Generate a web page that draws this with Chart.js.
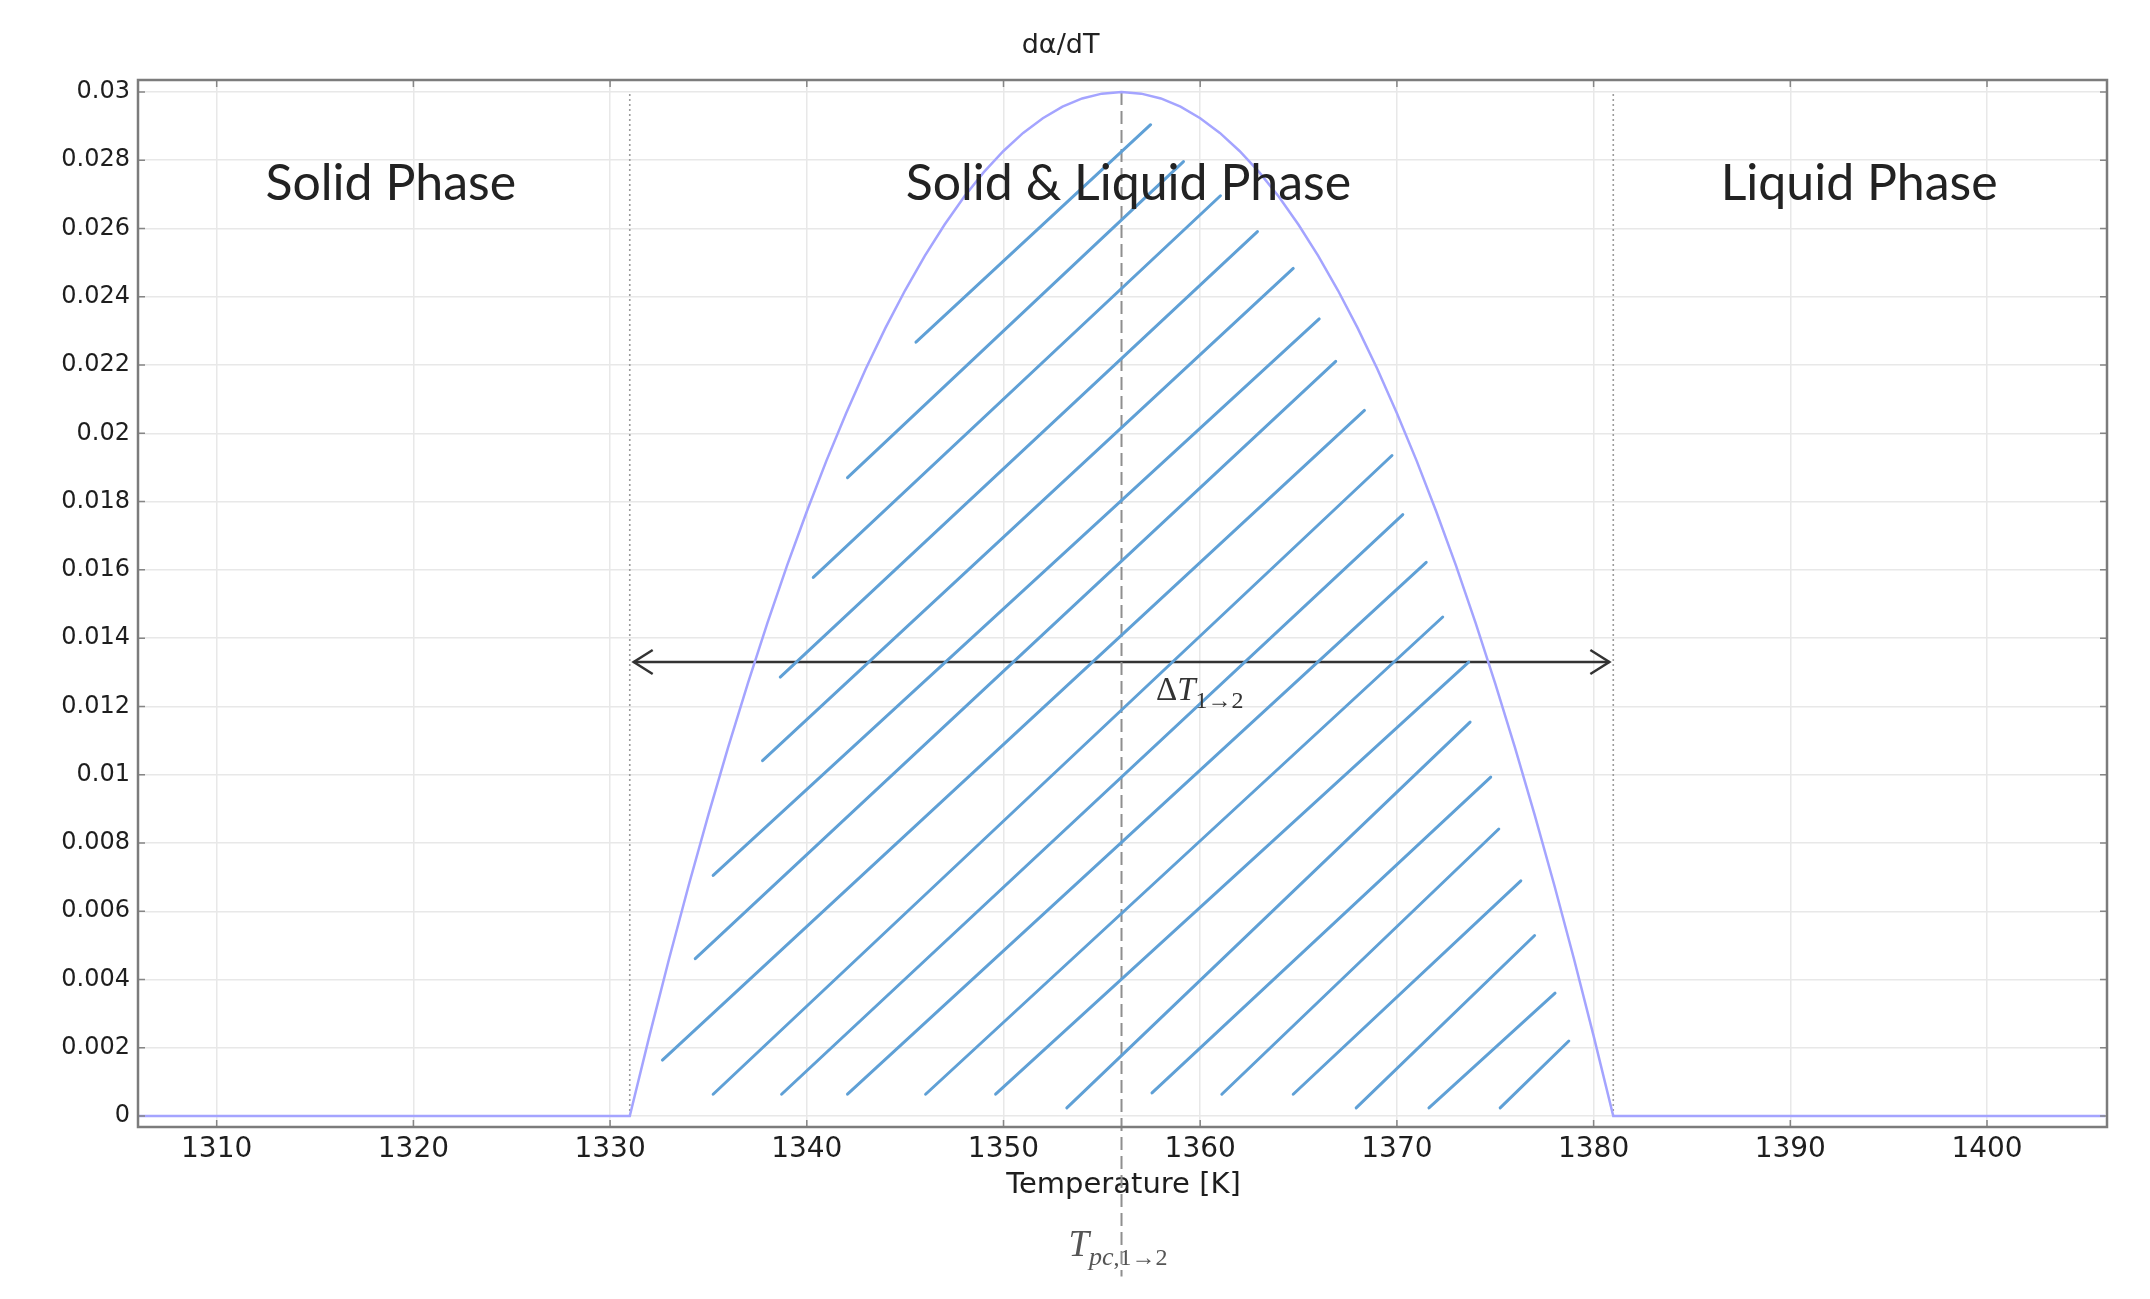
<!DOCTYPE html>
<html>
<head>
<meta charset="utf-8">
<title>dα/dT</title>
<script src="https://cdn.jsdelivr.net/npm/chart.js@4.4.1/dist/chart.umd.min.js"></script>
<style>
html, body { margin: 0; padding: 0; background: #fff; }
#wrap { width: 2150px; height: 1299px; }
</style>
</head>
<body>
<div id="wrap"><canvas id="chart" width="2150" height="1299"></canvas></div>
<script>
// temperature [K] and dα/dT
const temps = [1306, 1331, 1332, 1333, 1334, 1335, 1336, 1337, 1338, 1339, 1340,
    1341, 1342, 1343, 1344, 1345, 1346, 1347, 1348, 1349, 1350,
    1351, 1352, 1353, 1354, 1355, 1356, 1357, 1358, 1359, 1360,
    1361, 1362, 1363, 1364, 1365, 1366, 1367, 1368, 1369, 1370,
    1371, 1372, 1373, 1374, 1375, 1376, 1377, 1378, 1379, 1380, 1381, 1406];
const dAlpha = [0, 0, 0.00235, 0.00461, 0.00677, 0.00883, 0.0108, 0.01267, 0.01445, 0.01613, 0.01771,
    0.0192, 0.02059, 0.02189, 0.02309, 0.02419, 0.0252, 0.02611, 0.02693, 0.02765, 0.02827,
    0.0288, 0.02923, 0.02957, 0.02981, 0.02995, 0.03, 0.02995, 0.02981, 0.02957, 0.02923,
    0.0288, 0.02827, 0.02765, 0.02693, 0.02611, 0.0252, 0.02419, 0.02309, 0.02189, 0.02059,
    0.0192, 0.01771, 0.01613, 0.01445, 0.01267, 0.0108, 0.00883, 0.00677, 0.00461, 0.00235, 0, 0];

const xTicks = [1310, 1320, 1330, 1340, 1350, 1360, 1370, 1380, 1390, 1400];
const yTicks = [0, 0.002, 0.004, 0.006, 0.008, 0.01, 0.012, 0.014, 0.016, 0.018, 0.02,
    0.022, 0.024, 0.026, 0.028, 0.03];
const yTickLabels = ["0", "0.002", "0.004", "0.006", "0.008", "0.01", "0.012", "0.014", "0.016",
    "0.018", "0.02", "0.022", "0.024", "0.026", "0.028", "0.03"];

// hatch strokes under the curve: lower end and upper end [T, dα/dT]
const hatchFrom = [[1345.55, 0.02267], [1342.07, 0.01870], [1340.33, 0.01578], [1338.65, 0.01286],
    [1337.75, 0.01041], [1335.24, 0.00705], [1334.33, 0.00461], [1332.66, 0.00164],
    [1335.24, 0.00064], [1338.72, 0.00064], [1342.07, 0.00064], [1346.04, 0.00064],
    [1349.60, 0.00064], [1353.22, 0.00024], [1357.55, 0.00068], [1361.10, 0.00064],
    [1364.73, 0.00064], [1367.93, 0.00024], [1371.63, 0.00024], [1375.25, 0.00024]];
const hatchTo = [[1357.48, 0.02904], [1359.15, 0.02796], [1361.03, 0.02696], [1362.91, 0.02591],
    [1364.73, 0.02483], [1366.05, 0.02335], [1366.89, 0.02211], [1368.35, 0.02067],
    [1369.75, 0.01935], [1370.30, 0.01762], [1371.49, 0.01622], [1372.33, 0.01462],
    [1373.65, 0.01330], [1373.72, 0.01154], [1374.77, 0.00993], [1375.18, 0.00841],
    [1376.30, 0.00689], [1377.00, 0.00529], [1378.04, 0.00360], [1378.74, 0.00220]];

const phaseBounds = [1331, 1381];   // start / end of melting
const tPeak = 1356;                 // T_pc,1->2
const spanY = 0.0133;               // height of the ΔT arrow
const spanX = [1331.2, 1380.8];

const phaseLabels = [
    { text: "Solid Phase", x: 1318.85 },
    { text: "Solid & Liquid Phase", x: 1356.35 },
    { text: "Liquid Phase", x: 1393.5 }
];

const hatchColor = "rgb(95,160,214)";

let datasets = [];
hatchFrom.forEach((p, i) => {
    datasets.push({
        data: [{ x: p[0], y: p[1] }, { x: hatchTo[i][0], y: hatchTo[i][1] }],
        borderColor: hatchColor, borderWidth: 3, borderCapStyle: "round"
    });
});
phaseBounds.forEach(t => {
    datasets.push({
        data: [{ x: t, y: 0 }, { x: t, y: 0.03 }],
        borderColor: "#9c9c9c", borderWidth: 1.6, borderDash: [2, 3]
    });
});
// dashed line at the peak, runs down past the axis to the T_pc label
datasets.push({
    data: [{ x: tPeak, y: 0.03 }, { x: tPeak, y: -0.0047 }],
    borderColor: "#8f8f8f", borderWidth: 2, borderDash: [13, 6], clip: false
});
datasets.push({
    data: [{ x: spanX[0], y: spanY }, { x: spanX[1], y: spanY }],
    borderColor: "#333", borderWidth: 2.5
});
datasets.unshift({
    data: temps.map((t, i) => ({ x: t, y: dAlpha[i] })),
    borderColor: "#a4a4ff", borderWidth: 2.5
});
datasets.forEach(d => { d.showLine = true; d.pointRadius = 0; d.fill = false; d.tension = 0; });

// pieces of text that mix upright, italic and subscript parts
function drawParts(ctx, x, y, parts, color) {
    ctx.save();
    ctx.fillStyle = color;
    ctx.textAlign = "left";
    ctx.textBaseline = "alphabetic";
    parts.forEach(p => {
        ctx.font = p.font;
        ctx.fillText(p.t, x, y + (p.dy || 0));
        x += ctx.measureText(p.t).width;
    });
    ctx.restore();
}

const decorations = {
    id: "decorations",
    beforeDatasetsDraw(chart) {
        const ctx = chart.ctx, xs = chart.scales.x, ys = chart.scales.y, a = chart.chartArea;
        ctx.save();
        ctx.fillStyle = "#1e1e1e";
        ctx.font = "29px 'DejaVu Sans'";
        ctx.textAlign = "center";
        ctx.fillText("Temperature [K]", (a.left + a.right) / 2 + 1, 1193);
        ctx.restore();
        drawParts(ctx, xs.getPixelForValue(1353.3), ys.getPixelForValue(-0.0041), [
            { t: "T", font: "italic 37px 'Liberation Serif'" },
            { t: "pc", font: "italic 26px 'Liberation Serif'", dy: 9 },
            { t: ",1→2", font: "24px 'Liberation Serif'", dy: 9 }
        ], "#555");
    },
    afterDatasetsDraw(chart) {
        const ctx = chart.ctx, xs = chart.scales.x, ys = chart.scales.y, a = chart.chartArea;

        // arrow heads of ΔT
        const ay = ys.getPixelForValue(spanY);
        ctx.save();
        ctx.strokeStyle = "#333";
        ctx.lineWidth = 2.5;
        [[spanX[0], 1], [spanX[1], -1]].forEach(([t, dir]) => {
            const px = xs.getPixelForValue(t);
            ctx.beginPath();
            ctx.moveTo(px + dir * 19, ay - 12);
            ctx.lineTo(px, ay);
            ctx.lineTo(px + dir * 19, ay + 12);
            ctx.stroke();
        });
        ctx.restore();

        drawParts(ctx, xs.getPixelForValue(1357.75), ys.getPixelForValue(0.0122), [
            { t: "Δ", font: "33px 'Liberation Serif'" },
            { t: "T", font: "italic 33px 'Liberation Serif'" },
            { t: "1→2", font: "24px 'Liberation Serif'", dy: 8 }
        ], "#333");

        ctx.save();
        ctx.fillStyle = "#222";
        ctx.textAlign = "center";
        ctx.font = "50px Lato";
        phaseLabels.forEach(l => {
            ctx.fillText(l.text, xs.getPixelForValue(l.x), ys.getPixelForValue(0.02684));
        });
        ctx.font = "27px 'DejaVu Sans'";
        ctx.fillText("dα/dT", xs.getPixelForValue(1352.9), 53);

        // frame with small inner ticks
        ctx.strokeStyle = "#868686";
        ctx.lineWidth = 1.5;
        ctx.beginPath();
        xTicks.forEach(t => {
            const px = xs.getPixelForValue(t);
            ctx.moveTo(px, a.bottom); ctx.lineTo(px, a.bottom - 7);
            ctx.moveTo(px, a.top); ctx.lineTo(px, a.top + 7);
        });
        yTicks.forEach(v => {
            const py = ys.getPixelForValue(v);
            ctx.moveTo(a.left, py); ctx.lineTo(a.left + 7, py);
            ctx.moveTo(a.right, py); ctx.lineTo(a.right - 7, py);
        });
        ctx.stroke();
        ctx.strokeStyle = "#7c7c7c";
        ctx.lineWidth = 2.5;
        ctx.strokeRect(a.left, a.top, a.right - a.left, a.bottom - a.top);
        ctx.restore();
    }
};

new Chart(document.getElementById("chart").getContext("2d"), {
    type: "scatter",
    data: { datasets: datasets },
    options: {
        responsive: false,
        animation: false,
        devicePixelRatio: 1,
        layout: { padding: { top: 80, right: 43, bottom: 0, left: 0 } },
        plugins: { legend: { display: false }, tooltip: { enabled: false } },
        scales: {
            x: {
                type: "linear", min: 1306, max: 1406.1,
                afterBuildTicks: s => { s.ticks = xTicks.map(v => ({ value: v })); },
                afterFit: s => { s.height = 172; },
                ticks: {
                    callback: v => String(v), color: "#1e1e1e", padding: 6,
                    font: { family: "DejaVu Sans", size: 28 }, maxRotation: 0, autoSkip: false
                },
                grid: { color: "#e8e8e8", lineWidth: 1.5, drawTicks: false },
                border: { display: false }
            },
            y: {
                min: -0.00032, max: 0.03035,
                afterBuildTicks: s => { s.ticks = yTicks.map(v => ({ value: v })); },
                afterFit: s => { s.width = 138; },
                ticks: {
                    callback: (v, i) => yTickLabels[i], color: "#1e1e1e", padding: 8,
                    font: { family: "DejaVu Sans", size: 24 }, autoSkip: false
                },
                grid: { color: "#e8e8e8", lineWidth: 1.5, drawTicks: false },
                border: { display: false }
            }
        }
    },
    plugins: [decorations]
});
</script>
</body>
</html>
